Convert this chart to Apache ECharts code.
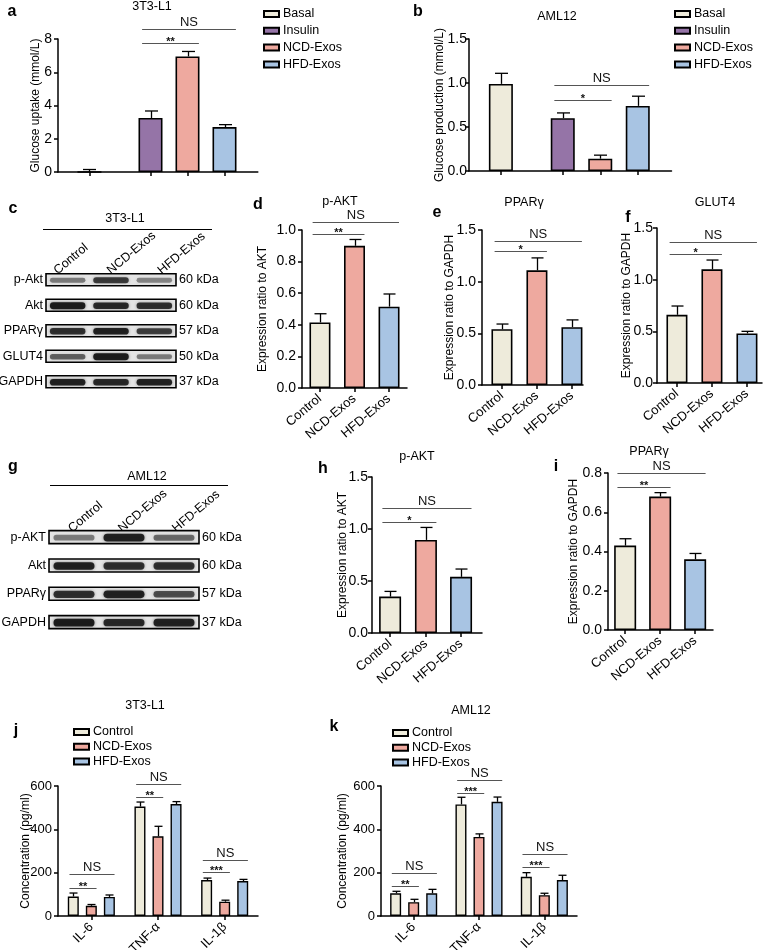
<!DOCTYPE html>
<html><head><meta charset="utf-8">
<script src="https://cdn.jsdelivr.net/npm/echarts@6/dist/echarts.min.js"></script>
<style>html,body{margin:0;padding:0;background:#fff}#c{width:764px;height:950px}</style>
</head><body><div id="c"></div>
<script>
const FONT = '"Liberation Sans", Arial, Helvetica, sans-serif';

// ---------------- data ----------------
const abGroups = ['Basal', 'Insulin', 'NCD-Exos', 'HFD-Exos'];
const aMean = [0, 3.25, 6.95, 2.7];
const aErr = [0.15, 0.42, 0.3, 0.15];
const aSig = [[1, 2, 7.75, '**'], [1, 3, 8.6, 'NS']];
const bMean = [0.99, 0.6, 0.14, 0.74];
const bErr = [0.12, 0.06, 0.04, 0.11];
const bSig = [[1, 2, 0.81, '*'], [1, 3, 0.98, 'NS']];

const lanes = ['Control', 'NCD-Exos', 'HFD-Exos'];
const dMean = [0.415, 0.9, 0.515];
const dErr = [0.055, 0.04, 0.08];
const dSig = [[0, 1, 0.975, '**'], [0, 2, 1.05, 'NS']];
const eMean = [0.54, 1.11, 0.56];
const eErr = [0.05, 0.12, 0.07];
const eSig = [[0, 1, 1.30, '*'], [0, 2, 1.39, 'NS']];
const fMean = [0.66, 1.10, 0.48];
const fErr = [0.085, 0.09, 0.02];
const fSig = [[0, 1, 1.25, '*'], [0, 2, 1.36, 'NS']];
const hMean = [0.35, 0.895, 0.54];
const hErr = [0.05, 0.12, 0.075];
const hSig = [[0, 1, 1.07, '*'], [0, 2, 1.2, 'NS']];
const iMean = [0.43, 0.68, 0.36];
const iErr = [0.035, 0.02, 0.03];
const iSig = [[0, 1, 0.73, '**'], [0, 2, 0.80, 'NS']];

const cytokines = ['IL-6', 'TNF-α', 'IL-1β'];
const jControl = [90, 505, 166], jControlErr = [16, 21, 9];
const jNCD = [47, 368, 66], jNCDErr = [6, 46, 7];
const jHFD = [88, 517, 161], jHFDErr = [9, 11, 8];
const jSig = [[0, 1, 129, '**'], [0, 2, 194, 'NS'], [1, 1, 549, '**'], [1, 2, 609, 'NS'], [2, 1, 203, '***'], [2, 2, 258, 'NS']];
const kControl = [105, 515, 181], kControlErr = [9, 33, 19];
const kNCD = [64, 365, 96], kNCDErr = [13, 14, 9];
const kHFD = [105, 527, 166], kHFDErr = [18, 22, 22];
const kSig = [[0, 1, 138, '**'], [0, 2, 198, 'NS'], [1, 1, 568, '***'], [1, 2, 628, 'NS'], [2, 1, 226, '***'], [2, 2, 286, 'NS']];

const cRows = ['p-Akt', 'Akt', 'PPARγ', 'GLUT4', 'GAPDH'];
const cKDa = ['60 kDa', '60 kDa', '57 kDa', '50 kDa', '37 kDa'];
const cBands = [[0.35, 0.72, 0.3], [0.95, 0.85, 0.8], [0.8, 0.9, 0.7], [0.5, 0.95, 0.35], [0.9, 0.85, 0.9]];
const gRows = ['p-AKT', 'Akt', 'PPARγ', 'GAPDH'];
const gKDa = ['60 kDa', '60 kDa', '57 kDa', '37 kDa'];
const gBands = [[0.35, 0.9, 0.45], [0.9, 0.8, 0.8], [0.8, 0.9, 0.6], [0.95, 0.85, 0.9]];

const panelLetters = [['a', 12, 12], ['b', 418, 12], ['c', 13, 209], ['d', 258, 205], ['e', 437, 213], ['f', 628, 218], ['g', 13, 467], ['h', 323, 469], ['i', 556, 467], ['j', 16, 731], ['k', 334, 727]];
const panelTitles = [['3T3-L1', 152, 7], ['AML12', 557, 17], ['3T3-L1', 125, 219], ['p-AKT', 340, 202], ['PPARγ', 524, 203], ['GLUT4', 715, 203], ['AML12', 147, 477], ['p-AKT', 417, 457], ['PPARγ', 649, 452], ['3T3-L1', 145, 706], ['AML12', 471, 711]];

// ---------------- styles ----------------
const COL_BASAL = '#EEEBDB', COL_INS = '#9574A7', COL_NCD = '#EEA99F', COL_HFD = '#A8C4E3';
const abColors = [COL_BASAL, COL_INS, COL_NCD, COL_HFD];
const laneColors = [COL_BASAL, COL_NCD, COL_HFD];

const grid = [], xAxis = [], yAxis = [], series = [], graphic = [];

function lineAxis() { return { show: true, onZero: false, lineStyle: { color: '#000', width: 1.5 } }; }
function tickStyle() { return { color: '#000', width: 1.5 }; }
function addGrid(g) { grid.push(Object.assign({ outerBoundsMode: 'none', containLabel: false }, g)); return grid.length - 1; }
function nearestIdx(arr, v) { let b = 0; arr.forEach((p, i) => { if (Math.abs(p - v) < Math.abs(arr[b] - v)) b = i; }); return b; }

function errRender(cap, off) {
  return function (params, api) {
    const x = api.value(0), m = api.value(1), e = api.value(2);
    const p0 = api.coord([x, m]), p1 = api.coord([x, m + e]);
    const cx = Math.round(p0[0] + off) + 0.5;
    return { type: 'group', children: [
      { type: 'line', shape: { x1: cx, y1: p0[1], x2: cx, y2: p1[1] }, style: { stroke: '#000', lineWidth: 1.3 } },
      { type: 'line', shape: { x1: cx - cap, y1: p1[1], x2: cx + cap, y2: p1[1] }, style: { stroke: '#000', lineWidth: 1.3 } }
    ] };
  };
}

function sigRender(items, barW) {
  return function (params, api) {
    const s = items[params.dataIndex];
    const half = barW / 2;
    const p1 = api.coord([s.x1, s.y]), p2 = api.coord([s.x2, s.y]);
    const xL = p1[0] + (s.o1 || 0) - half * 0.7, xR = p2[0] + (s.o2 || 0) + half * 0.95;
    const y = Math.round(p1[1]) + 0.5;
    const star = s.t !== 'NS';
    return { type: 'group', children: [
      { type: 'line', shape: { x1: xL, y1: y, x2: xR, y2: y }, style: { stroke: '#555', lineWidth: 1 } },
      { type: 'text', x: (xL + xR) / 2, y: star ? y + 4 : y - 1, style: { text: s.t, align: 'center', verticalAlign: 'bottom', fontSize: star ? 11 : 13, fontFamily: FONT, fill: '#111', fontWeight: star ? 'bold' : 'normal' } }
    ] };
  };
}

function yValueAxis(gi, cfg) {
  return {
    type: 'value', gridIndex: gi, min: 0, max: cfg.ymax, interval: cfg.yint,
    name: cfg.yname, nameLocation: 'middle', nameGap: cfg.nameGap, nameMoveOverlap: false,
    nameTextStyle: { fontSize: 12, color: '#000', fontFamily: FONT },
    axisLine: lineAxis(), axisTick: { show: true, length: 4, lineStyle: tickStyle() },
    axisLabel: { margin: cfg.tickMargin != null ? cfg.tickMargin : 6, fontSize: cfg.tickFont || 14, color: '#000', fontFamily: FONT, formatter: v => v.toFixed(cfg.dec) },
    splitLine: { show: false }
  };
}

function barPanel(cfg) {
  const gi = addGrid(cfg.grid);
  const xi = xAxis.length;
  xAxis.push({
    type: 'value', gridIndex: gi, min: 0, max: cfg.xmax,
    axisLine: lineAxis(), splitLine: { show: false },
    axisTick: { show: true, length: 4, customValues: cfg.pos, lineStyle: tickStyle() },
    axisLabel: cfg.xLabels ? { show: true, customValues: cfg.pos, rotate: 40, margin: 9, fontSize: 13, color: '#000', fontFamily: FONT, formatter: v => cfg.xLabels[nearestIdx(cfg.pos, v)] } : { show: false }
  });
  const yi = yAxis.length;
  yAxis.push(yValueAxis(gi, cfg));
  if (cfg.seriesNames) {
    cfg.seriesNames.forEach((nm, i) => series.push({
      type: 'bar', name: nm, xAxisIndex: xi, yAxisIndex: yi, barWidth: cfg.barW, barGap: '-100%',
      data: [[cfg.pos[i], cfg.mean[i]]],
      itemStyle: { color: cfg.colors[i], borderColor: '#000', borderWidth: 1.6 }, z: 2
    }));
  } else {
    series.push({
      type: 'bar', name: cfg.name, xAxisIndex: xi, yAxisIndex: yi, barWidth: cfg.barW,
      data: cfg.mean.map((m, i) => ({ value: [cfg.pos[i], m], itemStyle: { color: cfg.colors[i] } })),
      itemStyle: { borderColor: '#000', borderWidth: 1.6 }, z: 2
    });
  }
  series.push({ type: 'custom', xAxisIndex: xi, yAxisIndex: yi, silent: true, z: 3, encode: { x: 0, y: 1 },
    data: cfg.mean.map((m, i) => [cfg.pos[i], m, cfg.err[i]]), renderItem: errRender(cfg.cap, 0) });
  const items = cfg.sig.map(s => ({ x1: cfg.pos[s[0]], x2: cfg.pos[s[1]], y: s[2], t: s[3] }));
  series.push({ type: 'custom', xAxisIndex: xi, yAxisIndex: yi, silent: true, z: 3, encode: { x: 0, y: 1 },
    data: items.map(s => [s.x1, s.y]), renderItem: sigRender(items, cfg.barW) });
}

function groupedPanel(cfg) {
  const gi = addGrid(cfg.grid);
  const xi = xAxis.length;
  xAxis.push({
    type: 'category', gridIndex: gi, data: cytokines, boundaryGap: true,
    axisLine: lineAxis(), axisTick: { show: true, alignWithLabel: true, length: 4, lineStyle: tickStyle() },
    axisLabel: { rotate: 45, margin: 9, fontSize: 13, color: '#000', fontFamily: FONT, interval: 0 }, splitLine: { show: false }
  });
  const yi = yAxis.length;
  yAxis.push(yValueAxis(gi, cfg));
  const offs = [-18, 0, 18];
  lanes.forEach((nm, s) => {
    series.push({ type: 'bar', name: nm, xAxisIndex: xi, yAxisIndex: yi, barWidth: 11, barGap: '64%',
      data: cfg.means[s], itemStyle: { color: laneColors[s], borderColor: '#000', borderWidth: 1.4 }, z: 2 });
    series.push({ type: 'custom', xAxisIndex: xi, yAxisIndex: yi, silent: true, z: 3, encode: { x: 0, y: 1 },
      data: cfg.means[s].map((m, g) => [g, m, cfg.errs[s][g]]), renderItem: errRender(4, offs[s]) });
  });
  const items = cfg.sig.map(s => ({ x1: s[0], x2: s[0], o1: offs[0], o2: offs[s[1]], y: s[2], t: s[3] }));
  series.push({ type: 'custom', xAxisIndex: xi, yAxisIndex: yi, silent: true, z: 3, encode: { x: 0, y: 1 },
    data: items.map(s => [s.x1, s.y]), renderItem: sigRender(items, 11) });
}

function blotRender(boxH, bandH, nL) {
  return function (params, api) {
    const l = api.value(0), r = api.value(1), v = api.value(2);
    const c = api.coord([l, r]);
    const lw = api.size([1, 1])[0];
    const ch = [];
    if (l === 0) {
      ch.push({ type: 'rect', shape: { x: c[0] - lw / 2, y: c[1] - boxH / 2, width: lw * nL, height: boxH },
        style: { fill: '#e4e4e4', stroke: '#000', lineWidth: 1.6 } });
    }
    const bw = lw * 0.82, bh = bandH * (0.55 + 0.45 * v);
    ch.push({ type: 'rect', shape: { x: c[0] - bw / 2, y: c[1] + 0.5 - bh / 2, width: bw, height: bh, r: bh / 2 },
      style: { fill: 'rgba(20,20,20,' + (0.2 + 0.78 * v).toFixed(2) + ')', shadowBlur: 3, shadowColor: 'rgba(20,20,20,' + (0.6 * v).toFixed(2) + ')' } });
    return { type: 'group', children: ch };
  };
}

function blotPanel(cfg) {
  const gi = addGrid(cfg.grid);
  const xi = xAxis.length;
  // hidden lane axis used to place the bands
  xAxis.push({ type: 'category', gridIndex: gi, data: lanes, position: 'bottom', boundaryGap: true, show: false });
  // top axis carrying the rotated lane labels
  xAxis.push({ type: 'value', gridIndex: gi, position: 'top', min: 0, max: lanes.length,
    axisLine: { show: false }, axisTick: { show: false }, splitLine: { show: false },
    axisLabel: { customValues: cfg.labelPos, rotate: -40, margin: cfg.laneMargin, fontSize: 12.5, color: '#000', fontFamily: FONT,
      formatter: v => lanes[nearestIdx(cfg.labelPos, v)] } });
  const yi = yAxis.length;
  yAxis.push({ type: 'category', gridIndex: gi, data: cfg.rows, inverse: true, position: 'left',
    axisLine: { show: false }, axisTick: { show: false }, splitLine: { show: false },
    axisLabel: { margin: 3, fontSize: 12.5, color: '#000', fontFamily: FONT, interval: 0 } });
  yAxis.push({ type: 'category', gridIndex: gi, data: cfg.kda, inverse: true, position: 'right',
    axisLine: { show: false }, axisTick: { show: false }, splitLine: { show: false },
    axisLabel: { margin: 3, fontSize: 12.5, color: '#000', fontFamily: FONT, interval: 0 } });
  const data = [];
  cfg.bands.forEach((row, r) => row.forEach((v, l) => data.push([l, r, v])));
  series.push({ type: 'custom', xAxisIndex: xi, yAxisIndex: yi, silent: true, encode: { x: 0, y: 1 },
    data, renderItem: blotRender(cfg.boxH, cfg.bandH, lanes.length) });
  graphic.push({ type: 'line', shape: cfg.underline, style: { stroke: '#000', lineWidth: 1 } });
}

// ---------------- panels ----------------
const abPos = [0.85, 2.5, 3.5, 4.5];
barPanel({ grid: { left: 58, top: 39, width: 199.8, height: 133 }, pos: abPos, xmax: 5.4, ymax: 8, yint: 2, dec: 0,
  yname: 'Glucose uptake (mmol/L)', nameGap: 16, barW: 24, cap: 6.5, seriesNames: abGroups, colors: abColors,
  mean: aMean, err: aErr, sig: aSig });
barPanel({ grid: { left: 469, top: 39, width: 202.5, height: 132 }, pos: abPos, xmax: 5.4, ymax: 1.5, yint: 0.5, dec: 1, tickMargin: 2,
  yname: 'Glucose production (mmol/L)', nameGap: 23, barW: 24, cap: 6.5, seriesNames: abGroups, colors: abColors,
  mean: bMean, err: bErr, sig: bSig });

blotPanel({ grid: { left: 46, top: 267, width: 130, height: 127.5 }, rows: cRows, kda: cKDa, bands: cBands,
  boxH: 12, bandH: 7, laneMargin: -5, labelPos: [0.22, 1.45, 2.62], underline: { x1: 43, y1: 229.5, x2: 212, y2: 229.5 } });

barPanel({ grid: { left: 302, top: 230, width: 105, height: 158 }, pos: [0.52, 1.52, 2.52], xmax: 3.04, ymax: 1.0, yint: 0.2, dec: 1,
  yname: 'Expression ratio to AKT', nameGap: 33, barW: 21, cap: 6, name: 'p-AKT 3T3-L1', colors: laneColors, xLabels: lanes,
  mean: dMean, err: dErr, sig: dSig });
barPanel({ grid: { left: 482, top: 230, width: 101, height: 155 }, pos: [0.57, 1.57, 2.57], xmax: 2.886, ymax: 1.5, yint: 0.5, dec: 1,
  yname: 'Expression ratio to GAPDH', nameGap: 26, barW: 21, cap: 6, name: 'PPARγ 3T3-L1', colors: laneColors, xLabels: lanes,
  mean: eMean, err: eErr, sig: eSig });
barPanel({ grid: { left: 657, top: 228, width: 105, height: 155 }, pos: [0.57, 1.57, 2.57], xmax: 3.0, ymax: 1.5, yint: 0.5, dec: 1, tickMargin: 4,
  yname: 'Expression ratio to GAPDH', nameGap: 24, barW: 21, cap: 6, name: 'GLUT4 3T3-L1', colors: laneColors, xLabels: lanes,
  mean: fMean, err: fErr, sig: fSig });

blotPanel({ grid: { left: 49, top: 523, width: 150, height: 113.3 }, rows: gRows, kda: gKDa, bands: gBands,
  boxH: 13, bandH: 8, laneMargin: -7, labelPos: [0.42, 1.42, 2.5], underline: { x1: 50, y1: 485.5, x2: 228, y2: 485.5 } });

barPanel({ grid: { left: 372, top: 477, width: 110, height: 156 }, pos: [0.51, 1.52, 2.51], xmax: 3.1, ymax: 1.5, yint: 0.5, dec: 1, tickMargin: 4,
  yname: 'Expression ratio to AKT', nameGap: 23, barW: 22, cap: 6, name: 'p-AKT AML12', colors: laneColors, xLabels: lanes,
  mean: hMean, err: hErr, sig: hSig });
barPanel({ grid: { left: 608, top: 473, width: 105, height: 157 }, pos: [0.49, 1.49, 2.49], xmax: 3.0, ymax: 0.8, yint: 0.2, dec: 1,
  yname: 'Expression ratio to GAPDH', nameGap: 28, barW: 22, cap: 6, name: 'PPARγ AML12', colors: laneColors, xLabels: lanes,
  mean: iMean, err: iErr, sig: iSig });

groupedPanel({ grid: { left: 58, top: 786, width: 200, height: 130 }, ymax: 600, yint: 200, dec: 0, tickFont: 13,
  yname: 'Concentration (pg/ml)', nameGap: 26,
  means: [jControl, jNCD, jHFD], errs: [jControlErr, jNCDErr, jHFDErr], sig: jSig });
groupedPanel({ grid: { left: 381, top: 786, width: 196, height: 130 }, ymax: 600, yint: 200, dec: 0, tickFont: 13,
  yname: 'Concentration (pg/ml)', nameGap: 32,
  means: [kControl, kNCD, kHFD], errs: [kControlErr, kNCDErr, kHFDErr], sig: kSig });

// ---------------- texts ----------------
panelLetters.forEach(([t, x, y]) => graphic.push({ type: 'text', x, y,
  style: { text: t, align: 'center', verticalAlign: 'middle', fontSize: 16, fontWeight: 'bold', fontFamily: FONT, fill: '#000' } }));
panelTitles.forEach(([t, x, y]) => graphic.push({ type: 'text', x, y,
  style: { text: t, align: 'center', verticalAlign: 'middle', fontSize: 12.5, fontFamily: FONT, fill: '#000' } }));

function legendAt(names, left, top, gap) {
  return { data: names, left, top, orient: 'vertical', icon: 'rect', itemWidth: 15, itemHeight: 6, itemGap: gap,
    selectedMode: false, textStyle: { fontSize: 12.5, color: '#000', fontFamily: FONT, padding: [0, 0, 0, -1] } };
}

const option = {
  animation: false, backgroundColor: '#fff', textStyle: { fontFamily: FONT },
  grid, xAxis, yAxis, series, graphic,
  legend: [legendAt(abGroups, 258, 2.5, 3.8), legendAt(abGroups, 669, 2.5, 3.8), legendAt(lanes, 68, 720.5, 1.8), legendAt(lanes, 387, 721.5, 1.8)]
};
const chart = echarts.init(document.getElementById('c'), null, { renderer: 'canvas' });
chart.setOption(option);
</script></body></html>
